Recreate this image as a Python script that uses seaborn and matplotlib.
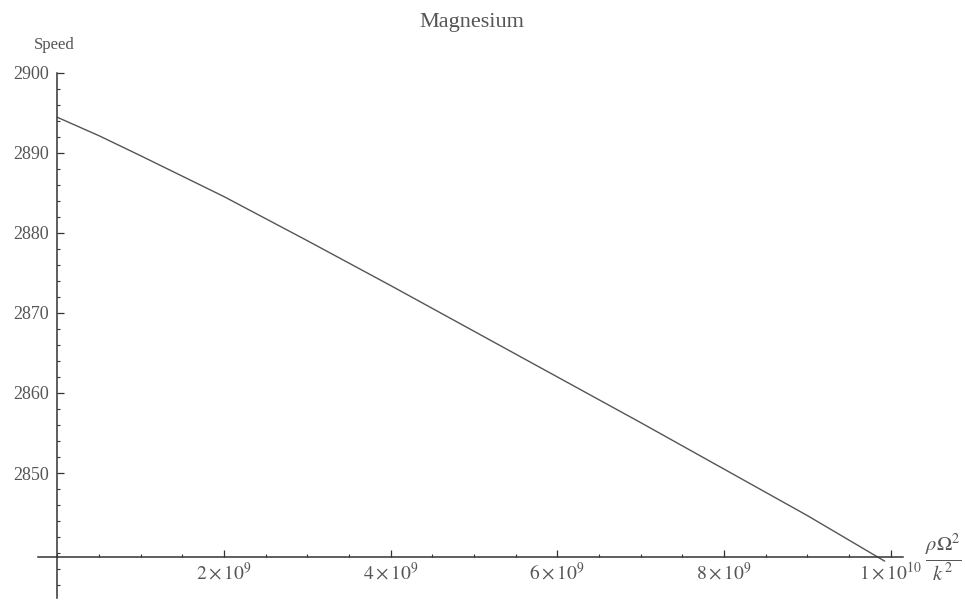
import numpy as np
import pandas as pd
import matplotlib
matplotlib.use("Agg")
import matplotlib.pyplot as plt
import matplotlib.ticker as mticker
import seaborn as sns

# Wave speed in magnesium versus the rotation parameter rho*Omega^2/k^2
load = [0.0, 0.5, 1.0, 2.0, 3.0, 4.0, 5.0, 6.0, 7.0, 8.0, 9.0, 9.93]   # in units of 1e9
speed = [2894.4, 2892.1, 2889.6, 2884.5, 2879.0, 2873.4, 2867.7,
         2862.0, 2856.3, 2850.5, 2844.7, 2839.0]

x_major = [2, 4, 6, 8, 10]
x_labels = [r"$2\times10^{9}$", r"$4\times10^{9}$", r"$6\times10^{9}$",
            r"$8\times10^{9}$", r"$1\times10^{10}$"]
y_major = [2850, 2860, 2870, 2880, 2890, 2900]

df = pd.DataFrame({"load": load, "speed": speed})

sns.set_theme(style="white")
plt.rcParams["font.family"] = ["Liberation Serif", "DejaVu Serif"]
plt.rcParams["mathtext.fontset"] = "stix"

fig = plt.figure(figsize=(9.65, 6.02), dpi=100)
ax = fig.add_axes([38 / 965, 4 / 602, 865 / 965, 525.5 / 602])

sns.lineplot(data=df, x="load", y="speed", ax=ax, color="#555555", lw=1.0)

ax.set_xlim(-0.234, 10.15)
ax.set_ylim(2834.4, 2900)

axis_col = "#333333"
ax.spines["top"].set_visible(False)
ax.spines["right"].set_visible(False)
ax.spines["left"].set_position(("data", 0))
ax.spines["bottom"].set_position(("data", 2839.5))
for s in ("left", "bottom"):
    ax.spines[s].set_color(axis_col)
    ax.spines[s].set_linewidth(1.1)

ax.set_xticks(x_major)
ax.set_xticklabels(x_labels)
ax.xaxis.set_minor_locator(mticker.MultipleLocator(0.5))
ax.set_yticks(y_major)
ax.set_yticklabels([str(v) for v in y_major])
ax.yaxis.set_minor_locator(mticker.MultipleLocator(2))

ax.tick_params(axis="both", which="major", direction="in", length=5,
               width=0.9, color=axis_col, labelcolor="#555555", labelsize=13)
ax.tick_params(axis="both", which="minor", direction="in", length=2.5,
               width=0.8, color=axis_col)
ax.tick_params(axis="x", which="major", pad=3, labelsize=14)
ax.tick_params(axis="y", which="major", pad=6)
ax.xaxis.set_ticks_position("bottom")
ax.yaxis.set_ticks_position("left")

ax.set_xlabel("")
ax.set_ylabel("")

# axis names placed at the ends of the axes
ax.annotate("Speed", xy=(0, 2900), xycoords="data", xytext=(-2, 14),
            textcoords="offset points", ha="center", va="bottom",
            fontsize=12, color="#555555")
ax.annotate(r"$\frac{\rho\Omega^2}{k^2}$", xy=(1.0, 2839.5),
            xycoords=("axes fraction", "data"), xytext=(29, 0),
            textcoords="offset points", ha="center", va="center",
            fontsize=21, color="#555555")

fig.text(472 / 965, 1 - 22 / 602, "Magnesium", ha="center", va="center",
         fontsize=16, color="#555555")

fig.savefig("out.png", dpi=100, facecolor="white")
